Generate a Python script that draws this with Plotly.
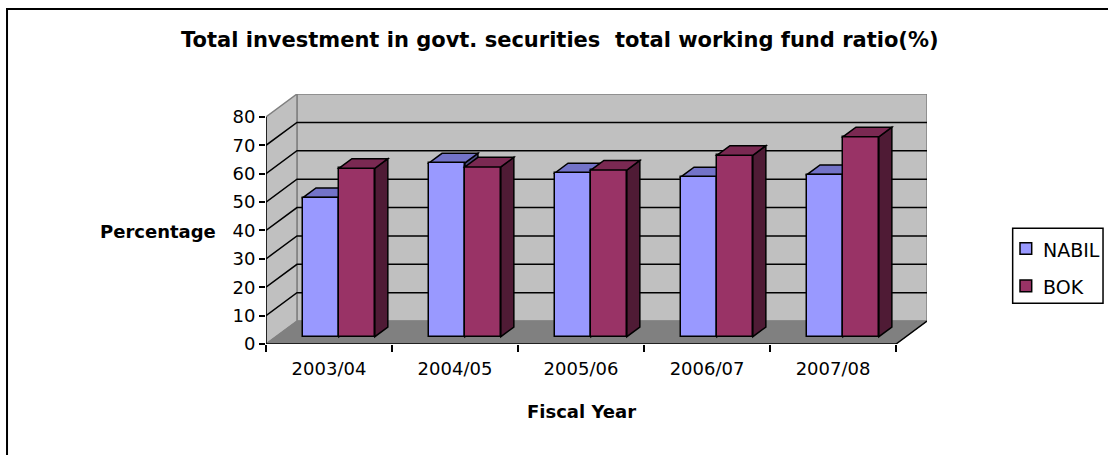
import plotly.graph_objects as go

# ---- data -------------------------------------------------------------
fiscal_years = ["2003/04", "2004/05", "2005/06", "2006/07", "2007/08"]
nabil = [49.0, 61.2, 57.7, 56.3, 57.1]
bok = [59.3, 59.8, 58.7, 63.9, 70.4]
y_ticks = [0, 10, 20, 30, 40, 50, 60, 70, 80]
series_names = ["NABIL", "BOK"]

# ---- oblique 3-D geometry (in axis units) -----------------------------
DX, DY = 0.2458, 8.07        # depth offset from front plane to back wall
Y_MAX = 80
FRONT_GAP = 0.32             # bars start this far into the depth
BAR_DEPTH = 0.42             # bar depth as a share of the full depth
BW = 0.285                   # width of one bar

SX, SY = FRONT_GAP * DX, FRONT_GAP * DY
BDX, BDY = BAR_DEPTH * DX, BAR_DEPTH * DY
X0, X1 = -0.5, len(fiscal_years) - 0.5

WALL = "#C0C0C0"
FLOOR = "#808080"
EDGE = "#808080"
NABIL_FRONT, NABIL_TOP, NABIL_SIDE = "#9999FF", "#7373C8", "#4D4D80"
BOK_FRONT, BOK_TOP, BOK_SIDE = "#993366", "#7A2952", "#4F1B35"
FONT = "DejaVu Sans, Verdana, sans-serif"


def path(points):
    return "M " + " L ".join(f"{x},{y}" for x, y in points) + " Z"


def open_path(points):
    return "M " + " L ".join(f"{x},{y}" for x, y in points)


shapes = []
# back wall, side wall, floor
shapes.append(dict(type="path", layer="below", xref="x", yref="y",
                   path=path([(X0 + DX, DY), (X1 + DX, DY), (X1 + DX, Y_MAX + DY), (X0 + DX, Y_MAX + DY)]),
                   fillcolor=WALL, line=dict(color=EDGE, width=1.5)))
shapes.append(dict(type="path", layer="below", xref="x", yref="y",
                   path=path([(X0, 0), (X0, Y_MAX), (X0 + DX, Y_MAX + DY), (X0 + DX, DY)]),
                   fillcolor=WALL, line=dict(color=EDGE, width=1.5)))
shapes.append(dict(type="path", layer="below", xref="x", yref="y",
                   path=path([(X0, 0), (X1, 0), (X1 + DX, DY), (X0 + DX, DY)]),
                   fillcolor=FLOOR, line=dict(color=FLOOR, width=1)))
# gridlines running across the side wall and the back wall
for v in y_ticks[1:-1]:
    shapes.append(dict(type="path", layer="below", xref="x", yref="y",
                       path=open_path([(X0, v), (X0 + DX, v + DY), (X1 + DX, v + DY)]),
                       line=dict(color="black", width=1.5)))
# front axis and floor edges
shapes.append(dict(type="line", layer="below", xref="x", yref="y",
                   x0=X0, y0=0, x1=X0, y1=Y_MAX, line=dict(color="black", width=1.5)))
shapes.append(dict(type="line", layer="below", xref="x", yref="y",
                   x0=X0, y0=0, x1=X1, y1=0, line=dict(color="black", width=1.5)))
shapes.append(dict(type="line", layer="below", xref="x", yref="y",
                   x0=X1, y0=0, x1=X1 + DX, y1=DY, line=dict(color="black", width=1.5)))

# top and side faces of the bars
for i, (vn, vb) in enumerate(zip(nabil, bok)):
    xc = i + SX
    # NABIL (left bar) faces sit under the bar layer, so BOK's front hides them
    xl, xr, yt = xc - BW, xc, SY + vn
    shapes.append(dict(type="path", layer="below", xref="x", yref="y",
                       path=path([(xr, SY), (xr, yt), (xr + BDX, yt + BDY), (xr + BDX, SY + BDY)]),
                       fillcolor=NABIL_SIDE, line=dict(color="black", width=1.5)))
    shapes.append(dict(type="path", layer="below", xref="x", yref="y",
                       path=path([(xl, yt), (xr, yt), (xr + BDX, yt + BDY), (xl + BDX, yt + BDY)]),
                       fillcolor=NABIL_TOP, line=dict(color="black", width=1.5)))
    # BOK (right bar) faces
    xl, xr, yt = xc, xc + BW, SY + vb
    shapes.append(dict(type="path", layer="above", xref="x", yref="y",
                       path=path([(xr, SY), (xr, yt), (xr + BDX, yt + BDY), (xr + BDX, SY + BDY)]),
                       fillcolor=BOK_SIDE, line=dict(color="black", width=1.5)))
    shapes.append(dict(type="path", layer="above", xref="x", yref="y",
                       path=path([(xl, yt), (xr, yt), (xr + BDX, yt + BDY), (xl + BDX, yt + BDY)]),
                       fillcolor=BOK_TOP, line=dict(color="black", width=1.5)))

# outer chart frame (only its top and left edges fall inside the canvas)
shapes.append(dict(type="rect", xref="paper", yref="paper", layer="above",
                   x0=-0.3918, y0=-0.47, x1=1.29, y1=1.34,
                   line=dict(color="black", width=2), fillcolor="rgba(0,0,0,0)"))

# legend box with its two swatches
shapes.append(dict(type="rect", xref="paper", yref="paper", layer="above",
                   x0=1.1296, y0=0.1628, x1=1.2663, y1=0.4628,
                   line=dict(color="black", width=1.5), fillcolor="white"))
legend_rows = [(NABIL_FRONT, 0.3588, 0.4052, 0.376), (BOK_FRONT, 0.2092, 0.256, 0.229)]
annotations = []
for name, (color, sy0, sy1, ty) in zip(series_names, legend_rows):
    shapes.append(dict(type="rect", xref="paper", yref="paper", layer="above",
                       x0=1.1407, y0=sy0, x1=1.1584, y1=sy1,
                       line=dict(color="black", width=1.5), fillcolor=color))
    annotations.append(dict(text=name, xref="paper", yref="paper", x=1.172, y=ty,
                            showarrow=False, xanchor="left", yanchor="middle",
                            font=dict(family=FONT, size=19)))

annotations += [
    dict(text="<b>Total investment in govt. securities  total working fund ratio(%)</b>",
         xref="paper", yref="paper", x=0.445, y=1.216, showarrow=False,
         xanchor="center", yanchor="middle", font=dict(family=FONT, size=21)),
    dict(text="<b>Percentage</b>", xref="paper", yref="paper", x=-0.164, y=0.449,
         showarrow=False, xanchor="center", yanchor="middle", font=dict(family=FONT, size=18)),
    dict(text="<b>Fiscal Year</b>", xref="paper", yref="paper", x=0.4776, y=-0.271,
         showarrow=False, xanchor="center", yanchor="middle", font=dict(family=FONT, size=18)),
]

xs = [i + SX for i in range(len(fiscal_years))]

fig = go.Figure()
fig.add_trace(go.Bar(x=xs, y=nabil, base=SY, width=BW, offset=-BW, name=series_names[0],
                     marker=dict(color=NABIL_FRONT, line=dict(color="black", width=1.5))))
fig.add_trace(go.Bar(x=xs, y=bok, base=SY, width=BW, offset=0, name=series_names[1],
                     marker=dict(color=BOK_FRONT, line=dict(color="black", width=1.5))))

fig.update_layout(
    width=1108, height=455,
    margin=dict(l=266, r=181, t=94, b=111),
    paper_bgcolor="white", plot_bgcolor="white",
    font=dict(family=FONT, size=18, color="black"),
    shapes=shapes,
    annotations=annotations,
    showlegend=False,
    xaxis=dict(range=[X0, X1 + DX], showgrid=False, zeroline=False, showline=False,
               tickmode="array", tickvals=list(range(len(fiscal_years))), ticktext=fiscal_years,
               ticks="", ticklabelstandoff=12,
               minor=dict(tickmode="array", tickvals=[k - 0.5 for k in range(len(fiscal_years) + 1)],
                          ticks="outside", ticklen=7, tickwidth=1.5, tickcolor="black", showgrid=False),
               fixedrange=True),
    yaxis=dict(range=[0, Y_MAX + DY], showgrid=False, zeroline=False, showline=False,
               tickmode="array", tickvals=y_ticks, ticks="outside", ticklen=6, tickwidth=1.5,
               tickcolor="black", fixedrange=True),
    bargap=0,
)

fig.write_html("out.html")
